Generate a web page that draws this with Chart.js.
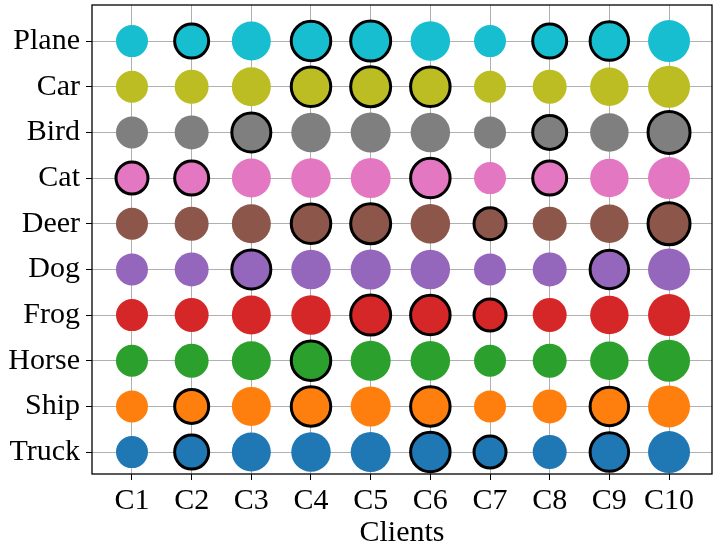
<!DOCTYPE html>
<html>
<head>
<meta charset="utf-8">
<script src="https://cdn.jsdelivr.net/npm/chart.js@4/dist/chart.umd.min.js"></script>
<style>
  html, body { margin: 0; padding: 0; background: #fff; }
  #wrap { width: 723px; height: 548px; position: relative; }
</style>
</head>
<body>
<div id="wrap"><canvas id="chart"></canvas></div>
<script>
// classes, top row first
const classes = ['Plane', 'Car', 'Bird', 'Cat', 'Deer', 'Dog', 'Frog', 'Horse', 'Ship', 'Truck'];
const clients = ['C1', 'C2', 'C3', 'C4', 'C5', 'C6', 'C7', 'C8', 'C9', 'C10'];
const classColors = ['#17becf', '#bcbd22', '#7f7f7f', '#e377c2', '#8c564b',
                     '#9467bd', '#d62728', '#2ca02c', '#ff7f0e', '#1f77b4'];
// bubble size per client (same for every class)
const clientSize = [16, 17, 19.5, 19.75, 20, 19.75, 16, 17, 19.25, 21];
// clients (1-based) outlined in black for each class
const selected = [
  [2, 4, 5, 8, 9],
  [4, 5, 6],
  [3, 8, 10],
  [1, 2, 6, 8],
  [4, 5, 7, 10],
  [3, 9],
  [5, 6, 7],
  [4],
  [2, 4, 6, 9],
  [2, 6, 7, 9]
];

const FONT = { family: '"Liberation Serif", "Times New Roman", serif', size: 30 };

const datasets = classes.map((name, ci) => {
  const yVal = classes.length - 1 - ci;
  return {
    label: name,
    data: clients.map((c, k) => ({ x: k + 1, y: yVal, r: clientSize[k] })),
    backgroundColor: classColors[ci],
    borderColor: clients.map((c, k) => selected[ci].includes(k + 1) ? '#000' : 'rgba(0,0,0,0)'),
    borderWidth: clients.map((c, k) => selected[ci].includes(k + 1) ? 3 : 0),
    hoverRadius: 0
  };
});

const frame = {
  id: 'frame',
  afterDraw(chart) {
    const a = chart.chartArea;
    const ctx = chart.ctx;
    ctx.save();
    ctx.strokeStyle = '#000';
    ctx.lineWidth = 1.3;
    ctx.strokeRect(a.left, a.top, a.right - a.left, a.bottom - a.top);
    ctx.restore();
  }
};

new Chart(document.getElementById('chart'), {
  type: 'bubble',
  data: { datasets },
  plugins: [frame],
  options: {
    responsive: true,
    maintainAspectRatio: false,
    animation: false,
    events: [],
    layout: { autoPadding: false, padding: { top: 5, right: 11, left: 0, bottom: 0 } },
    plugins: { legend: { display: false }, tooltip: { enabled: false } },
    scales: {
      x: {
        type: 'linear',
        min: 0.33,
        max: 10.72,
        z: 1,
        afterBuildTicks: s => { s.ticks = clients.map((c, k) => ({ value: k + 1 })); },
        afterFit: s => { s.height = 74; s.paddingLeft = 0; s.paddingRight = 0; },
        ticks: {
          callback: v => clients[v - 1],
          font: FONT,
          color: '#000',
          padding: 3,
          maxRotation: 0,
          autoSkip: false
        },
        grid: { color: '#b0b0b0', lineWidth: 1, tickColor: '#000', tickLength: 6 },
        border: { display: false },
        title: {
          display: true,
          text: 'Clients',
          font: FONT,
          color: '#000',
          padding: { top: 0, bottom: -3 }
        }
      },
      y: {
        type: 'linear',
        min: -0.48,
        max: 9.79,
        z: 1,
        afterBuildTicks: s => { s.ticks = classes.map((c, i) => ({ value: i })); },
        afterFit: s => { s.width = 92; s.paddingTop = 0; s.paddingBottom = 0; },
        ticks: {
          callback: v => classes[classes.length - 1 - v],
          font: FONT,
          color: '#000',
          padding: 6,
          autoSkip: false
        },
        grid: { color: '#b0b0b0', lineWidth: 1, tickColor: '#000', tickLength: 6 },
        border: { display: false }
      }
    }
  }
});
</script>
</body>
</html>
